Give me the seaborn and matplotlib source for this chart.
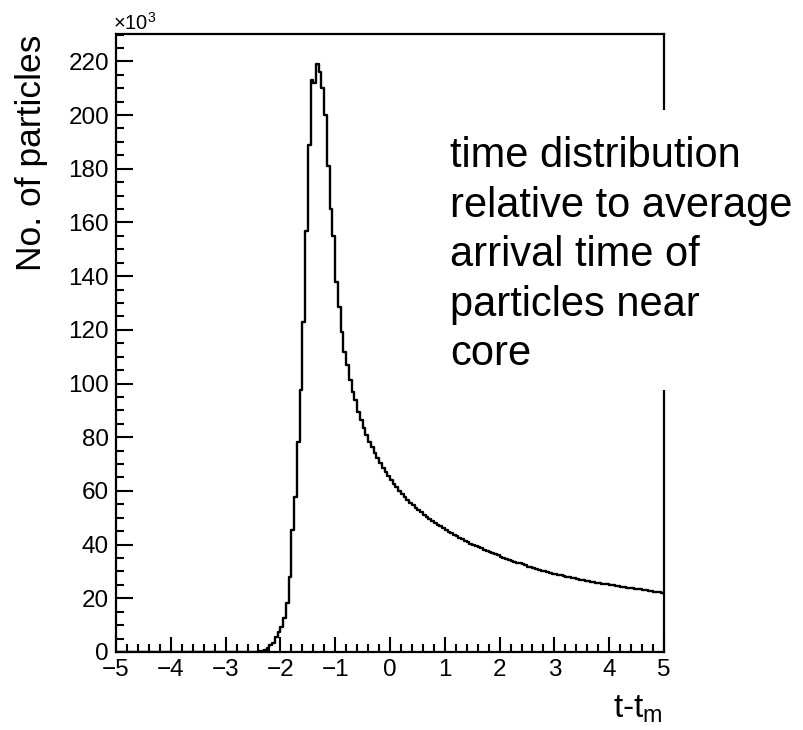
import numpy as np
import pandas as pd
import matplotlib
matplotlib.use("Agg")
import matplotlib.pyplot as plt
from matplotlib.patches import Rectangle
from matplotlib.ticker import MultipleLocator
import seaborn as sns

# ---- data (counts in units of 10^3 per bin of width 0.05, from -5 to 5) ----
x_min, x_max, bin_width = -5.0, 5.0, 0.05
counts_k = [
    # -5.00 .. -2.50 : empty
    0, 0, 0, 0, 0, 0, 0, 0, 0, 0,
    0, 0, 0, 0, 0, 0, 0, 0, 0, 0,
    0, 0, 0, 0, 0, 0, 0, 0, 0, 0,
    0, 0, 0, 0, 0, 0, 0, 0, 0, 0,
    0, 0, 0, 0, 0, 0, 0, 0, 0, 0,
    0,
    # -2.45 .. -1.00 : rise and peak
    0.1, 0.3, 0.5, 0.8, 1.5, 2.6, 3.5, 5.7, 7.5,
    9.4, 12.5, 18.1, 28.0, 45.4, 57.8, 78.3, 97.6, 123.0, 157.0,
    189.0, 213.0, 212.0, 219.0, 216.0, 210.0, 200.0, 181.0, 165.0, 155.0,
    # -1.00 .. -0.05
    138.0, 128.6, 119.3, 111.8, 106.9, 101.5, 97.0, 93.9, 89.5, 86.4,
    83.3, 80.8, 78.3, 76.2, 74.0, 72.1, 70.3, 68.6, 66.9, 65.4,
    # 0.00 .. 0.95
    63.9, 62.5, 61.3, 60.0, 58.9, 57.6, 56.6, 55.5, 54.6, 53.7,
    52.8, 52.0, 51.1, 50.4, 49.5, 48.9, 48.1, 47.4, 46.8, 46.1,
    # 1.00 .. 1.95
    45.5, 44.8, 44.3, 43.6, 43.1, 42.5, 42.0, 41.5, 41.0, 40.4,
    39.9, 39.5, 39.0, 38.6, 38.1, 37.8, 37.3, 37.0, 36.5, 36.1,
    # 2.00 .. 2.95
    35.3, 35.0, 34.6, 34.3, 33.9, 33.6, 33.3, 33.0, 32.7, 32.4,
    31.8, 31.5, 31.2, 30.9, 30.6, 30.3, 30.0, 29.8, 29.5, 29.2,
    # 3.00 .. 3.95
    29.0, 28.8, 28.5, 28.3, 28.1, 27.8, 27.6, 27.4, 27.2, 27.0,
    26.8, 26.6, 26.4, 26.2, 26.0, 25.8, 25.7, 25.5, 25.3, 25.2,
    # 4.00 .. 4.95
    25.0, 24.8, 24.7, 24.5, 24.3, 24.2, 24.0, 23.9, 23.7, 23.6,
    23.4, 23.3, 23.1, 23.0, 22.8, 22.7, 22.5, 22.4, 22.2, 22.0,
]
x_ticks = [-5, -4, -3, -2, -1, 0, 1, 2, 3, 4, 5]
y_ticks = [0, 20, 40, 60, 80, 100, 120, 140, 160, 180, 200, 220]
x_label = "t-t$_\\mathregular{m}$"
y_label = "No. of particles"
scale_label = "\u00d710$^\\mathregular{3}$"
note_lines = ["time distribution", "relative to average", "arrival time of",
              "particles near", "core"]

n_bins = len(counts_k)
centers = x_min + bin_width * (np.arange(n_bins) + 0.5)
df = pd.DataFrame({"t": centers, "n": np.asarray(counts_k, dtype=float)})

# ---- style ----
sns.set_style("ticks")
plt.rcParams["font.family"] = ["Liberation Sans", "DejaVu Sans"]
plt.rcParams["mathtext.default"] = "regular"
plt.rcParams["text.color"] = "black"
plt.rcParams["axes.labelcolor"] = "black"
plt.rcParams["xtick.color"] = "black"
plt.rcParams["ytick.color"] = "black"

W, H = 804, 730
fig = plt.figure(figsize=(W / 100, H / 100), dpi=100)
fig.patch.set_facecolor("white")
ax = fig.add_axes([116 / W, 1 - 652 / H, (664 - 116) / W, (652 - 34) / H])

sns.histplot(data=df, x="t", weights="n", binwidth=bin_width,
             binrange=(x_min, x_max), element="step",
             fill=False, color="black", linewidth=1.7, ax=ax)

ax.set_xlim(x_min, x_max)
ax.set_ylim(0, 230.2)
ax.set_xticks(x_ticks)
ax.set_yticks(y_ticks)
ax.set_xticklabels([str(v).replace("-", "\u2212") for v in x_ticks])
ax.set_yticklabels([str(v) for v in y_ticks])
ax.xaxis.set_minor_locator(MultipleLocator(0.2))
ax.yaxis.set_minor_locator(MultipleLocator(5))
ax.tick_params(axis="both", which="both", direction="in", top=False, right=False,
               width=1.5, colors="black", labelsize=17.5, labelcolor="black")
ax.tick_params(axis="y", which="major", length=12, pad=5)
ax.tick_params(axis="x", which="major", length=11, pad=5)
ax.tick_params(axis="both", which="minor", length=6)
for s in ax.spines.values():
    s.set_visible(True)
    s.set_linewidth(1.6)
    s.set_color("black")
ax.set_xlabel("")
ax.set_ylabel("")
ax.grid(False)

# axis titles (ROOT-like placement)
fig.text(663 / W, 1 - 718 / H, x_label, ha="right", va="baseline", fontsize=24)
fig.text(41 / W, 1 - 35 / H, y_label, ha="right", va="baseline", rotation=90,
         fontsize=25.5, rotation_mode="anchor")
fig.text(113 / W, 1 - 30 / H, scale_label, ha="left", va="baseline", fontsize=14.5)

# white annotation box covering the right frame
fig.patches.append(Rectangle((440 / W, 1 - 390 / H), (W - 440) / W, 280 / H,
                             transform=fig.transFigure, facecolor="white",
                             edgecolor="none", zorder=5))
fig.text(450 / W, 1 - 365 / H, "\n".join(note_lines), ha="left", va="baseline",
         fontsize=30, linespacing=1.305, zorder=6)

fig.savefig("out.png", dpi=100, facecolor="white")
